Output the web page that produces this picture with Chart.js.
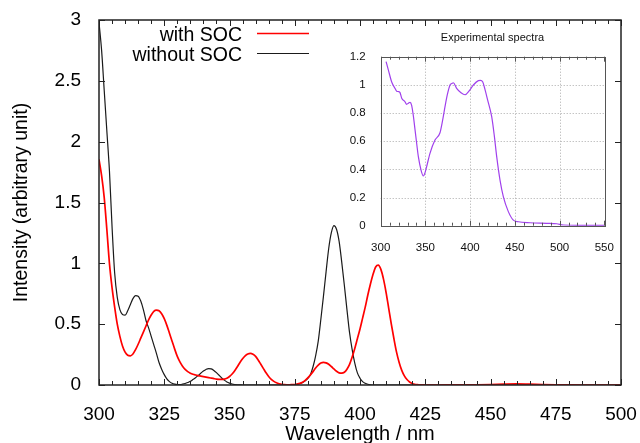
<!DOCTYPE html>
<html><head><meta charset="utf-8">
<script src="https://cdn.jsdelivr.net/npm/chart.js@4.4.0/dist/chart.umd.min.js"></script>
<style>
html,body{margin:0;padding:0;background:#fff;}
#wrap{position:relative;width:640px;height:443px;overflow:hidden;background:#fff;}
#main,#overlay{position:absolute;left:0;top:0;width:640px;height:443px;}
#inset{position:absolute;left:330px;top:20px;width:300px;height:235px;}
</style></head><body>
<div id="wrap"><canvas id="main" width="640" height="443"></canvas><canvas id="overlay" width="640" height="443"></canvas><canvas id="inset" width="300" height="235"></canvas></div>
<script>
// ---------- data ----------
const wavelength = [
300,301,302,303,304,305,306,307,308,309,
310,311,312,313,314,315,316,317,318,319,
320,321,322,323,324,325,326,327,328,329,
330,331,332,333,334,335,336,337,338,339,
340,341,342,343,344,345,346,347,348,349,
350,351,352,353,354,355,356,357,358,359,
360,361,362,363,364,365,366,367,368,369,
370,371,372,373,374,375,376,377,378,379,
380,381,382,383,384,385,386,387,388,389,
390,391,392,393,394,395,396,397,398,399,
400,401,402,403,404,405,406,407,408,409,
410,411,412,413,414,415,416,417,418,419,
420,421,422,423,424,425,
430,435,440,445,450,455,460,465,470,475,480,485,490,495,500];
const withSOC = [
1.855,1.72,1.54,1.28,1.00,0.80,0.64,0.50,0.40,0.32,
0.27,0.245,0.24,0.255,0.29,0.335,0.385,0.435,0.485,0.535,
0.575,0.605,0.615,0.61,0.585,0.545,0.49,0.425,0.36,0.295,
0.235,0.19,0.155,0.128,0.11,0.097,0.088,0.082,0.077,0.073,
0.069,0.065,0.061,0.057,0.053,0.049,0.047,0.046,0.048,0.056,
0.07,0.09,0.118,0.15,0.185,0.215,0.24,0.255,0.26,0.253,
0.235,0.205,0.17,0.135,0.10,0.07,0.047,0.03,0.018,0.01,
0.005,0.003,0.002,0.002,0.003,0.004,0.007,0.013,0.023,0.038,
0.058,0.083,0.11,0.14,0.163,0.18,0.186,0.182,0.17,0.152,
0.132,0.113,0.10,0.097,0.105,0.13,0.17,0.23,0.30,0.38,
0.46,0.55,0.64,0.74,0.83,0.91,0.97,0.985,0.95,0.87,
0.76,0.63,0.50,0.38,0.27,0.185,0.12,0.075,0.045,0.025,
0.013,0.006,0.003,0.001,0.0005,0,
0,0.0005,0.001,0.002,0.004,0.007,0.009,0.007,0.003,0.001,0.0005,0,0,0,0];
const withoutSOC = [
2.98,2.75,2.42,2.09,1.76,1.30,0.92,0.72,0.62,0.58,
0.575,0.61,0.66,0.71,0.735,0.73,0.69,0.62,0.53,0.47,
0.40,0.33,0.26,0.185,0.13,0.085,0.05,0.028,0.014,0.007,
0.004,0.004,0.007,0.012,0.02,0.03,0.045,0.06,0.078,0.097,
0.115,0.128,0.135,0.132,0.12,0.102,0.08,0.058,0.04,0.025,
0.015,0.008,0.004,0.002,0.001,0,0,0,0,0,
0,0,0,0,0,0,0,0,0,0,
0,0,0,0.001,0.002,0.004,0.007,0.012,0.02,0.035,
0.055,0.085,0.15,0.24,0.36,0.54,0.73,0.93,1.12,1.25,
1.31,1.28,1.18,1.01,0.82,0.62,0.43,0.29,0.18,0.10,
0.056,0.028,0.014,0.006,0.002,0,0,0,0,0,
0,0,0,0,0,0,0,0,0,0,
0,0,0,0,0,0,
0,0,0,0,0,0,0,0,0,0,0,0,0,0,0];
const seriesLabels = ['with SOC', 'without SOC'];
const xTicks = [300,325,350,375,400,425,450,475,500];
const yTicks = [0,0.5,1,1.5,2,2.5,3];
const xTitle = 'Wavelength / nm';
const yTitle = 'Intensity (arbitrary unit)';

const expWavelength = [306,308.6,312.3,316,317.9,320,321.6,323.5,327.2,329,331,332.8,334.6,336.5,338.4,340.3,342.1,345.1,347.7,349.5,351.4,355.1,360.7,366.3,369,371.9,374.5,377.5,379.5,381.2,384.9,389.8,394.3,399.1,403.6,409.2,411.5,414,416.5,419.6,424.1,427,429.7,433.4,437.1,442.7,448.3,453.9,467,485.5,496.7,504.2,520,550];
const expIntensity = [1.165,1.105,1.02,0.975,0.955,0.952,0.945,0.905,0.88,0.862,0.87,0.876,0.855,0.78,0.68,0.58,0.49,0.395,0.353,0.375,0.42,0.514,0.608,0.66,0.74,0.845,0.93,0.999,1.01,1.015,0.975,0.944,0.93,0.959,0.999,1.03,1.032,1.022,0.97,0.892,0.774,0.64,0.49,0.324,0.206,0.10,0.04,0.028,0.021,0.017,0.014,0.005,0.003,0.003];
const insetTitle = 'Experimental spectra';
const insetXTicks = [300,350,400,450,500,550];
const insetYTicks = [0,0.2,0.4,0.6,0.8,1,1.2];

// ---------- drawing ----------
const FONT = "'Liberation Sans', Arial, sans-serif";
const pts = (xs, ys) => xs.map((x, i) => ({x: x, y: ys[i]}));
const plainLabel = v => String(v);
const noPad = s => { s.paddingLeft = 0; s.paddingRight = 0; s.paddingTop = 0; s.paddingBottom = 0; };
const overlayCtx = document.getElementById('overlay').getContext('2d');

const mainFrame = {
  id: 'mainFrame',
  afterDraw(chart) {
    const ctx = overlayCtx;
    const {chartArea: a, scales: {x, y}} = chart;
    ctx.clearRect(0, 0, 640, 443);
    ctx.save();
    ctx.strokeStyle = '#222';
    ctx.lineWidth = 1;
    for (let v = 300; v <= 500; v += 5) {
      const px = Math.round(x.getPixelForValue(v)) + 0.5;
      const len = (v % 25 === 0) ? 6 : 4;
      ctx.beginPath();
      ctx.moveTo(px, a.bottom); ctx.lineTo(px, a.bottom - len);
      ctx.moveTo(px, a.top); ctx.lineTo(px, a.top + len);
      ctx.stroke();
    }
    yTicks.forEach(v => {
      const py = Math.round(y.getPixelForValue(v)) + 0.5;
      ctx.beginPath();
      ctx.moveTo(a.left, py); ctx.lineTo(a.left + 6, py);
      ctx.moveTo(a.right, py); ctx.lineTo(a.right - 6, py);
      ctx.stroke();
    });
    ctx.lineWidth = 1.5;
    ctx.strokeRect(a.left, a.top, a.right - a.left, a.bottom - a.top);
    // legend
    ctx.font = '19.5px ' + FONT;
    ctx.fillStyle = '#000';
    ctx.textAlign = 'right';
    ctx.textBaseline = 'alphabetic';
    const rows = [[40.5, 33.5], [60.5, 53.5]];
    chart.data.datasets.forEach((ds, i) => {
      ctx.fillText(ds.label, 242, rows[i][0]);
      ctx.strokeStyle = ds.borderColor;
      ctx.lineWidth = ds.borderWidth;
      ctx.beginPath();
      ctx.moveTo(257, rows[i][1]); ctx.lineTo(309, rows[i][1]);
      ctx.stroke();
    });
    ctx.restore();
  }
};

new Chart(document.getElementById('main'), {
  type: 'line',
  data: {
    datasets: [
      {label: seriesLabels[0], data: pts(wavelength, withSOC), borderColor: '#ff0000', borderWidth: 1.7, pointRadius: 0, cubicInterpolationMode: 'monotone', fill: false},
      {label: seriesLabels[1], data: pts(wavelength, withoutSOC), borderColor: '#1a1a1a', borderWidth: 1.2, pointRadius: 0, cubicInterpolationMode: 'monotone', fill: false}
    ]
  },
  options: {
    responsive: false, animation: false, devicePixelRatio: 1,
    layout: {padding: {left: 0, right: 19, top: 20, bottom: 0}},
    plugins: {legend: {display: false}, tooltip: {enabled: false}},
    scales: {
      x: {
        type: 'linear', min: 300, max: 500,
        afterBuildTicks: s => { s.ticks = xTicks.map(v => ({value: v})); },
        ticks: {font: {family: FONT, size: 19}, color: '#000', padding: 10, maxRotation: 0, autoSkip: false, callback: plainLabel},
        grid: {display: false}, border: {display: false},
        title: {display: true, text: xTitle, font: {family: FONT, size: 20}, color: '#000', padding: {top: 0, bottom: -3.6}},
        afterFit: s => { s.height = 58; noPad(s); }
      },
      y: {
        type: 'linear', min: 0, max: 3,
        afterBuildTicks: s => { s.ticks = yTicks.map(v => ({value: v})); },
        ticks: {font: {family: FONT, size: 19}, color: '#000', padding: 10, callback: plainLabel},
        grid: {display: false}, border: {display: false},
        title: {display: true, text: yTitle, font: {family: FONT, size: 19.5}, color: '#000', padding: {top: 9.6, bottom: 0}},
        afterFit: s => { s.width = 99; noPad(s); }
      }
    }
  },
  plugins: [mainFrame]
});

const insetDeco = {
  id: 'insetDeco',
  beforeDatasetsDraw(chart) {
    const {ctx, chartArea: a, scales: {x, y}} = chart;
    ctx.save();
    ctx.strokeStyle = '#aaaaaa';
    ctx.lineWidth = 1;
    ctx.setLineDash([1, 2]);
    insetXTicks.slice(1, -1).forEach(v => {
      const px = Math.round(x.getPixelForValue(v)) + 0.5;
      ctx.beginPath(); ctx.moveTo(px, a.top); ctx.lineTo(px, a.bottom); ctx.stroke();
    });
    insetYTicks.slice(1, -1).forEach(v => {
      const py = Math.round(y.getPixelForValue(v)) + 0.5;
      ctx.beginPath(); ctx.moveTo(a.left, py); ctx.lineTo(a.right, py); ctx.stroke();
    });
    ctx.restore();
  },
  afterDatasetsDraw(chart) {
    const {ctx, chartArea: a, scales: {x, y}} = chart;
    ctx.save();
    ctx.strokeStyle = '#555';
    ctx.lineWidth = 1;
    for (let v = 300; v <= 550; v += 10) {
      const px = Math.round(x.getPixelForValue(v)) + 0.5;
      const len = (v % 50 === 0) ? 5 : 3;
      ctx.beginPath();
      ctx.moveTo(px, a.bottom); ctx.lineTo(px, a.bottom - len);
      ctx.moveTo(px, a.top); ctx.lineTo(px, a.top + len);
      ctx.stroke();
    }
    ctx.strokeRect(Math.round(a.left) + 0.5, Math.round(a.top) + 0.5, Math.round(a.right - a.left), Math.round(a.bottom - a.top));
    ctx.font = '11px ' + FONT;
    ctx.fillStyle = '#111';
    ctx.textAlign = 'center';
    ctx.textBaseline = 'alphabetic';
    ctx.fillText(insetTitle, (a.left + a.right) / 2, 20.5);
    ctx.restore();
  }
};

new Chart(document.getElementById('inset'), {
  type: 'line',
  data: {
    datasets: [
      {label: insetTitle, data: pts(expWavelength, expIntensity), borderColor: '#a040ec', borderWidth: 1.2, pointRadius: 0, cubicInterpolationMode: 'monotone', fill: false}
    ]
  },
  options: {
    responsive: false, animation: false, devicePixelRatio: 1,
    layout: {padding: {left: 0, right: 25.7, top: 36.7, bottom: 0}},
    plugins: {legend: {display: false}, tooltip: {enabled: false}},
    scales: {
      x: {
        type: 'linear', min: 300, max: 550,
        afterBuildTicks: s => { s.ticks = insetXTicks.map(v => ({value: v})); },
        ticks: {font: {family: FONT, size: 11.5}, color: '#111', padding: 7, maxRotation: 0, autoSkip: false, callback: plainLabel},
        grid: {display: false}, border: {display: false},
        afterFit: s => { s.height = 29.3; noPad(s); }
      },
      y: {
        type: 'linear', min: 0, max: 1.2,
        afterBuildTicks: s => { s.ticks = insetYTicks.map(v => ({value: v})); },
        ticks: {font: {family: FONT, size: 11.5}, color: '#111', padding: 7, callback: plainLabel},
        grid: {display: false}, border: {display: false},
        afterFit: s => { s.width = 50.7; noPad(s); }
      }
    }
  },
  plugins: [insetDeco]
});
</script>
</body></html>
